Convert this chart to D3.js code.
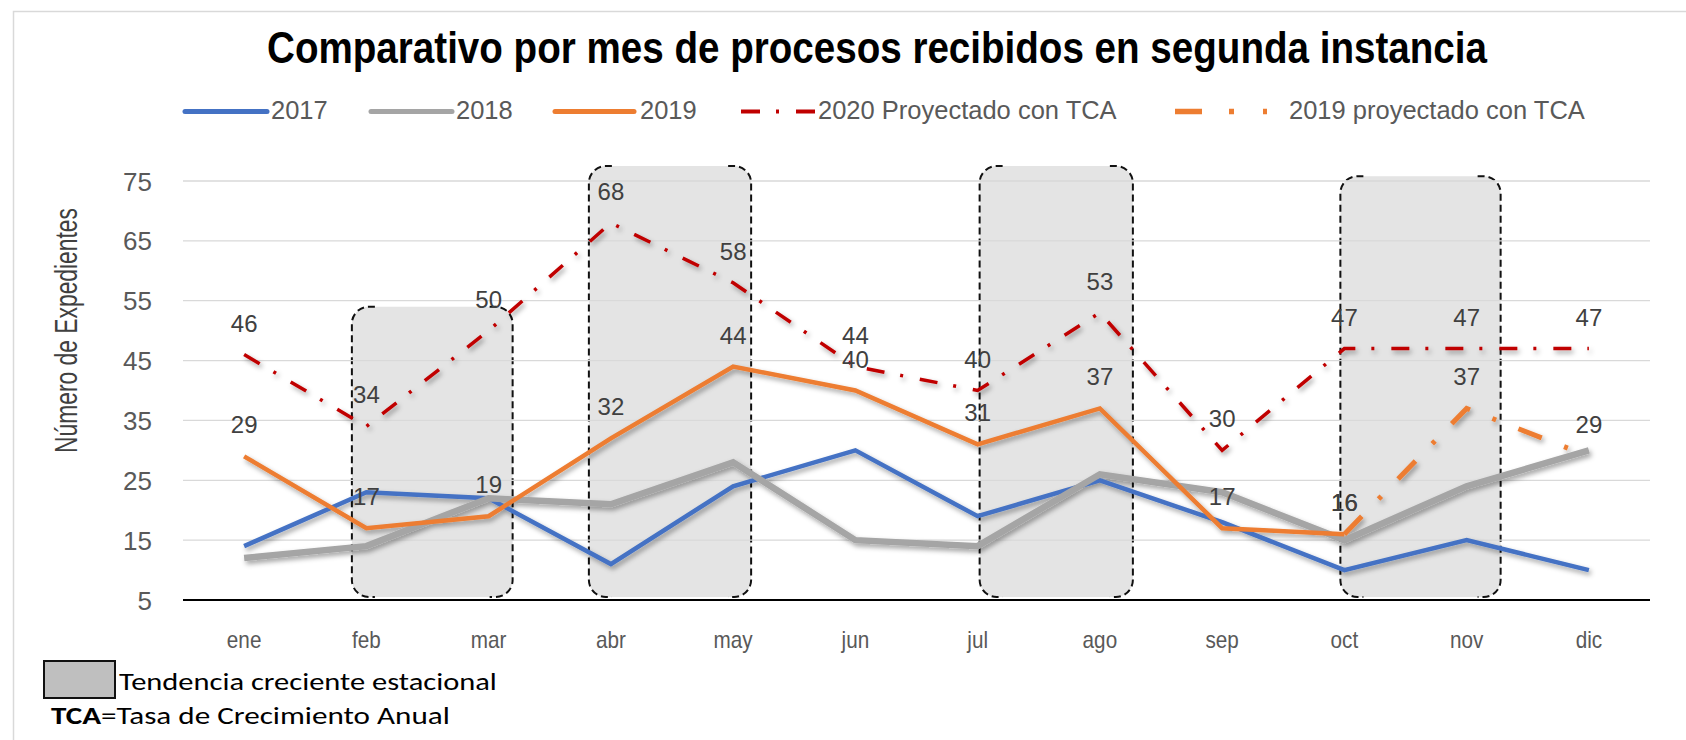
<!DOCTYPE html>
<html><head><meta charset="utf-8">
<script src="https://cdnjs.cloudflare.com/ajax/libs/d3/7.8.5/d3.min.js"></script>
<style>body{margin:0;background:#fff;overflow:hidden}</style>
</head><body>
<svg id="chart" width="1686" height="740"></svg>
<script>
// ---------- data ----------
const months = ["ene","feb","mar","abr","may","jun","jul","ago","sep","oct","nov","dic"];
const serie2017 = [14,23,22,11,24,30,19,25,18,10,15,10];
const serie2018 = [12,14,22,21,28,15,14,26,23,15,24,30];
const serie2019 = [29,17,19,32,44,40,31,37,17,16,null,null];
const serie2019Proy = [null,null,null,null,null,null,null,null,null,16,37,29];
const serie2020Proy = [46,34,50,68,58,44,40,53,30,47,47,47];
const yTicks = [5,15,25,35,45,55,65,75];
const seasonalStart = ["feb","abr","jul","oct"];
const seasonalEnd   = ["mar","may","ago","nov"];
const seasonalTop   = [54,77.5,77.5,75.8];
const legendNames = ["2017","2018","2019","2020 Proyectado con TCA","2019 proyectado con TCA"];

// ---------- setup ----------
const svg = d3.select("#chart");
const FONT = "'Liberation Sans', Arial, sans-serif";
const x = d3.scaleBand().domain(months).range([183, 1650]).padding(0);
const cx = m => x(m) + x.bandwidth()/2;
const y = d3.scaleLinear().domain([5, 75]).range([600, 181]);

// text helper: horizontal squeeze via scale, optional fit to width
function label(parent, o){
  const g = parent.append("g");
  const t = g.append("text").attr("x",0).attr("y",0)
    .attr("text-anchor", o.anchor||"start")
    .attr("font-family", o.family||FONT).attr("font-size", o.size)
    .attr("font-weight", o.weight||"normal").attr("fill", o.fill||"#404040");
  if(o.text!==undefined) t.text(o.text);
  if(o.build) o.build(t);
  let sx = o.sx||1;
  if(o.width){ sx = o.width / t.node().getComputedTextLength(); }
  g.attr("transform", `translate(${o.x},${o.y}) rotate(${o.rot||0}) scale(${sx},1)`);
  return t;
}

const defs = svg.append("defs");
const f = defs.append("filter").attr("id","sh").attr("x","-5%").attr("y","-20%").attr("width","115%").attr("height","150%");
f.append("feDropShadow").attr("dx",2).attr("dy",3).attr("stdDeviation",2.4)
  .attr("flood-color","#000").attr("flood-opacity",0.36);

// frame
svg.append("rect").attr("x",13.5).attr("y",11.5).attr("width",1720).attr("height",800)
  .attr("fill","none").attr("stroke","#d9d9d9").attr("stroke-width",1.5);

// title
label(svg,{x:877,y:63,anchor:"middle",size:44,weight:"bold",fill:"#000",width:1220,
  text:"Comparativo por mes de procesos recibidos en segunda instancia"});

// seasonal shaded boxes (fill + dashed bracket sides)
const padL = [-14.5,-22,2,-4], padR = [24,18,33,34];
const r = 17;
seasonalStart.forEach((s,i)=>{
  const x0 = cx(s)+padL[i], x1 = cx(seasonalEnd[i])+padR[i];
  const y0 = y(seasonalTop[i]), y1 = y(5.5);
  svg.append("rect").attr("x",x0).attr("y",y0).attr("width",x1-x0).attr("height",y1-y0)
    .attr("rx",r).attr("ry",r).attr("fill","#e4e4e4");
  const left = d3.path();
  left.moveTo(x0+r+6, y0); left.lineTo(x0+r, y0);
  left.arcTo(x0, y0, x0, y0+r, r); left.lineTo(x0, y1-r);
  left.arcTo(x0, y1, x0+r, y1, r); left.lineTo(x0+r+6, y1);
  const right = d3.path();
  right.moveTo(x1-r-6, y0); right.lineTo(x1-r, y0);
  right.arcTo(x1, y0, x1, y0+r, r); right.lineTo(x1, y1-r);
  right.arcTo(x1, y1, x1-r, y1, r); right.lineTo(x1-r-6, y1);
  [left, right].forEach(p=> svg.append("path").attr("d",p.toString()).attr("fill","none")
    .attr("stroke","#111").attr("stroke-width",2).attr("stroke-dasharray","7,4"));
});

// grid
const [gx0, gx1] = x.range();
svg.append("g").selectAll("line").data(yTicks.filter(t=>t>5)).join("line")
  .attr("x1",gx0).attr("x2",gx1).attr("y1",d=>y(d)).attr("y2",d=>y(d))
  .attr("stroke","#d9d9d9").attr("stroke-width",1.3);
// baseline axis
svg.append("line").attr("x1",gx0).attr("x2",gx1).attr("y1",y(5)).attr("y2",y(5))
  .attr("stroke","#000").attr("stroke-width",2.2);

// y tick labels
const gyt = svg.append("g");
yTicks.forEach(t=> label(gyt,{x:152,y:y(t)+9.5,anchor:"end",size:26,fill:"#595959",text:t}));

// month labels
const gxt = svg.append("g");
months.forEach(m=> label(gxt,{x:cx(m),y:648,anchor:"middle",size:23,sx:0.9,fill:"#595959",text:m}));

// y title
label(svg,{x:77,y:330.5,rot:-90,anchor:"middle",size:31,width:245,fill:"#404040",text:"Número de Expedientes"});

// lines
const line = d3.line().defined(d=>d.v!=null).x(d=>cx(d.m)).y(d=>y(d.v));
const toPts = arr => arr.map((v,i)=>({m:months[i], v}));
const seriesDefs = [
  {data:serie2017, color:"#4472C4", w:4.5, dash:null},
  {data:serie2018, color:"#A5A5A5", w:6.5, dash:null},
  {data:serie2019, color:"#ED7D31", w:4.5, dash:null},
  {data:serie2020Proy, color:"#C00000", w:3.5, dash:"18,16,3,17"},
  {data:serie2019Proy, color:"#ED7D31", w:5, dash:"25,24,4,24"}
];
const lg = svg.append("g").attr("filter","url(#sh)");
seriesDefs.forEach(s=>{
  lg.append("path").attr("d",line(toPts(s.data))).attr("fill","none")
    .attr("stroke",s.color).attr("stroke-width",s.w)
    .attr("stroke-linejoin","miter").attr("stroke-linecap","butt")
    .attr("stroke-dasharray",s.dash);
});

// data labels
const labG = svg.append("g");
[serie2019, serie2019Proy, serie2020Proy].forEach(arr=>{
  arr.forEach((v,i)=>{
    if(v==null) return;
    label(labG,{x:cx(months[i]),y:y(v)-23,anchor:"middle",size:24,fill:"#404040",text:v});
  });
});

// top legend
const legY = 111.5;
const legX = [185,371,555,741,1175];
const legLen = [82,81,79,74,92];
const legTextX = [271,456,640,818,1289];
seriesDefs.forEach((s,i)=>{
  svg.append("line").attr("x1",legX[i]).attr("x2",legX[i]+legLen[i]).attr("y1",legY).attr("y2",legY)
    .attr("stroke",s.color).attr("stroke-width", i<3?5:(i==3?4:5.5))
    .attr("stroke-linecap", i<3?"round":"butt")
    .attr("stroke-dasharray", i==3?"19,16,3,17": (i==4?"27,27,5,29,5,40":null));
  label(svg,{x:legTextX[i],y:118.5,size:25.5,fill:"#595959",text:legendNames[i]});
});

// bottom notes
svg.append("rect").attr("x",44).attr("y",661).attr("width",71).attr("height",37)
  .attr("fill","#bfbfbf").attr("stroke","#111").attr("stroke-width",2);
const NOTEF = "Carlito, Lato, 'Open Sans', sans-serif";
label(svg,{x:119,y:690,size:24,family:NOTEF,fill:"#000",width:378,text:"Tendencia creciente estacional"});
label(svg,{x:51,y:724,size:24,family:NOTEF,fill:"#000",width:399,build:t=>{
  t.append("tspan").attr("font-weight","bold").text("TCA");
  t.append("tspan").text("=Tasa de Crecimiento Anual");
}});
</script>
</body></html>
